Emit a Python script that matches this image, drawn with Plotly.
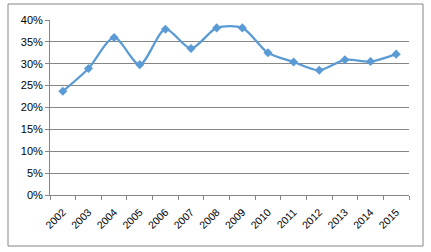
import plotly.graph_objects as go

years = ["2002", "2003", "2004", "2005", "2006", "2007", "2008",
         "2009", "2010", "2011", "2012", "2013", "2014", "2015"]
values = [0.237, 0.289, 0.360, 0.298, 0.379, 0.335, 0.382,
          0.382, 0.325, 0.304, 0.285, 0.309, 0.305, 0.322]
y_ticks = [0, 0.05, 0.10, 0.15, 0.20, 0.25, 0.30, 0.35, 0.40]

W, H = 431, 252
L, R, T, B = 50, 409, 20, 195
fig = go.Figure()
fig.add_trace(go.Scatter(
    x=years, y=values, mode="lines+markers",
    line=dict(color="#5B9BD5", width=2.25, shape="spline", smoothing=0.8),
    marker=dict(symbol="diamond", size=7, color="#5B9BD5"),
    showlegend=False, cliponaxis=False,
))

gray = "#868686"
fig.update_layout(
    width=W, height=H,
    margin=dict(l=L, r=W - R, t=T, b=H - B),
    paper_bgcolor="white", plot_bgcolor="white",
    font=dict(family="Liberation Sans, Arial, sans-serif", size=10, color="#000000"),
    xaxis=dict(type="category", range=[-0.5, 13.5], showgrid=False,
               showline=True, linecolor=gray, linewidth=1,
               ticks="outside", tickson="boundaries", ticklen=4, tickcolor=gray,
               tickangle=-45, tickfont=dict(size=10.5), ticklabelstandoff=6),
    yaxis=dict(range=[0, 0.4], tickvals=y_ticks, tickformat=".0%",
               showgrid=True, gridcolor=gray, gridwidth=1,
               showline=True, linecolor=gray, linewidth=1,
               ticks="outside", ticklen=4, tickcolor=gray,
               zeroline=False, tickfont=dict(size=11)),
)
pw, ph = R - L, B - T
fig.add_shape(type="rect", xref="paper", yref="paper",
              x0=(8 - L) / pw, x1=(423 - L) / pw,
              y0=(B - 246) / ph, y1=(B - 4) / ph,
              line=dict(color=gray, width=1), layer="below")
fig.write_html("out.html")
